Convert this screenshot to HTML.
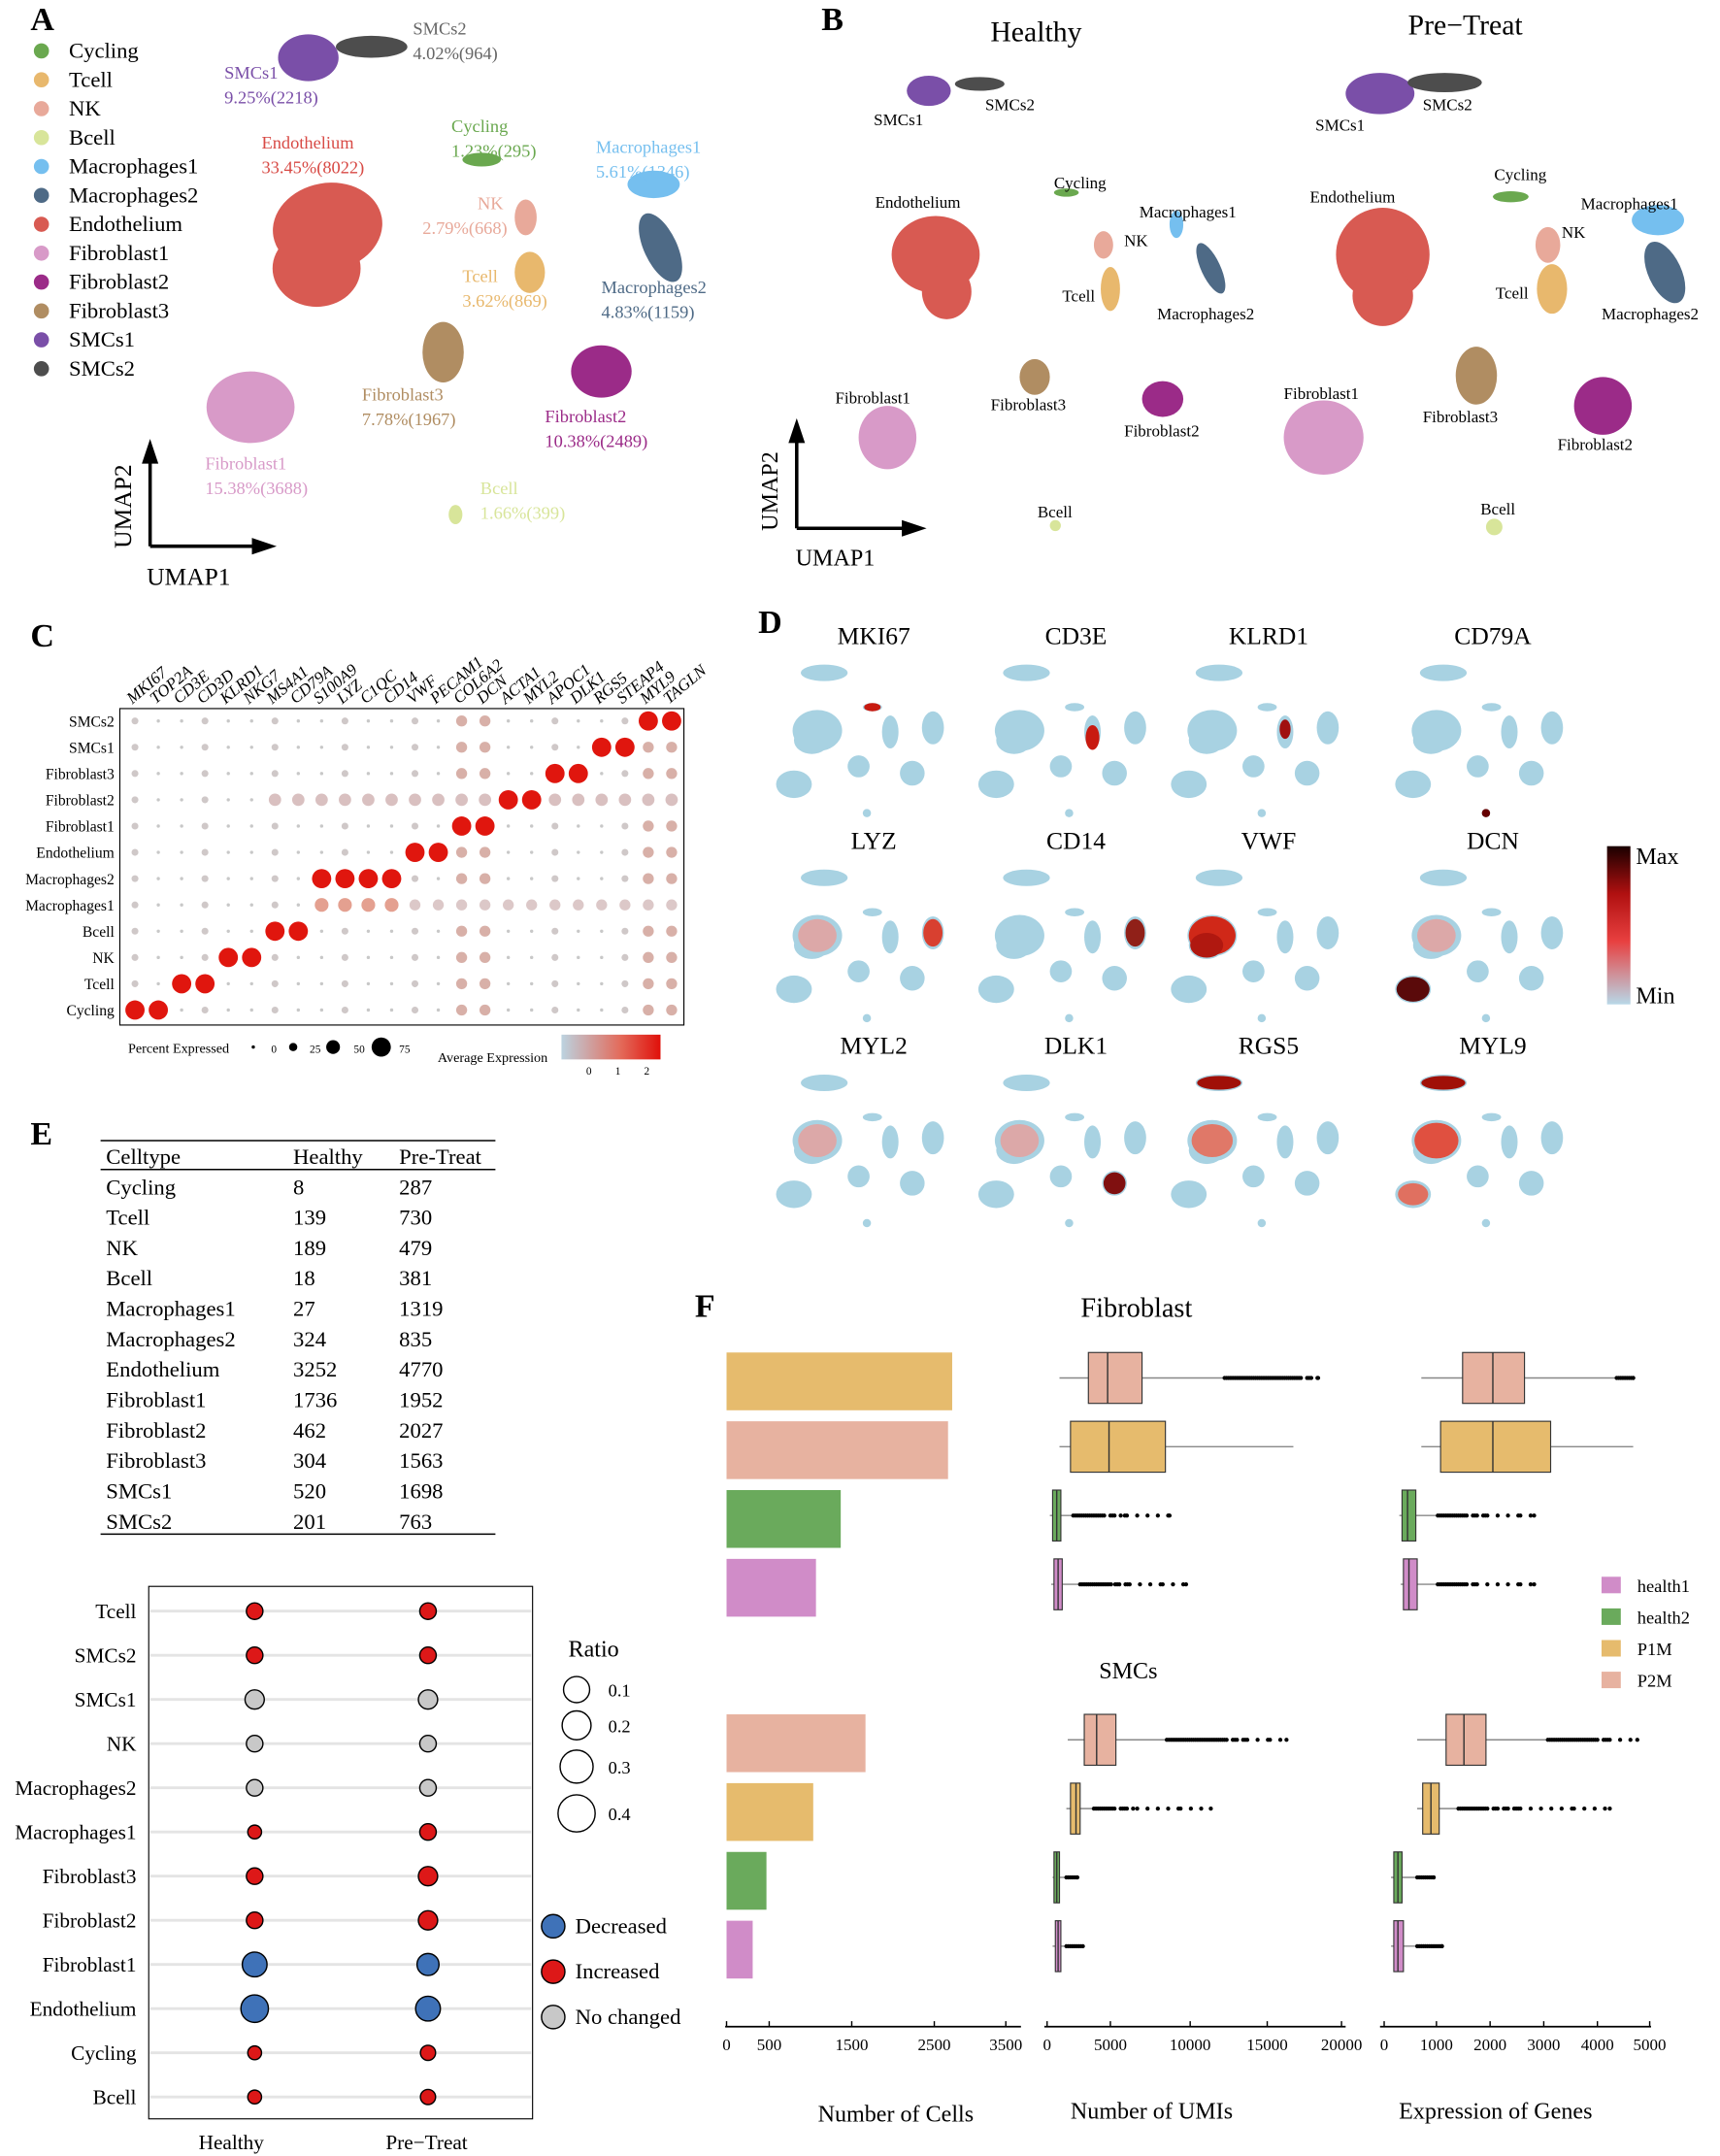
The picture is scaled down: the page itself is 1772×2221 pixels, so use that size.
<!DOCTYPE html>
<html><head><meta charset="utf-8"><style>
html,body{margin:0;padding:0;background:#fff}
svg{display:block}
text{font-family:"Liberation Serif",serif}
</style></head><body>
<svg id="c" width="1772" height="2221" viewBox="0 0 1250 1567" xmlns="http://www.w3.org/2000/svg"></svg>
<script>
var o=[];
function t(x,y,s,sz,col,anc,extra){o.push('<text x="'+x+'" y="'+y+'" font-size="'+sz+'" fill="'+(col||'#000')+'"'+(anc?' text-anchor="'+anc+'"':'')+(extra||'')+'>'+s+'</text>');}
function e(cx,cy,rx,ry,f,rot){o.push('<ellipse cx="'+cx+'" cy="'+cy+'" rx="'+rx+'" ry="'+ry+'" fill="'+f+'"'+(rot?' transform="rotate('+rot+' '+cx+' '+cy+')"':'')+'/>');}
function r(x,y,w,h,f,st){o.push('<rect x="'+x+'" y="'+y+'" width="'+w+'" height="'+h+'" fill="'+f+'"'+(st?' stroke="'+st+'" stroke-width="0.8"':'')+'/>');}
function l(x1,y1,x2,y2,c,w){o.push('<line x1="'+x1+'" y1="'+y1+'" x2="'+x2+'" y2="'+y2+'" stroke="'+(c||'#000')+'" stroke-width="'+(w||1)+'"/>');}
function c(cx,cy,rr,f,st){o.push('<circle cx="'+cx+'" cy="'+cy+'" r="'+rr+'" fill="'+f+'"'+(st?' stroke="'+st+'" stroke-width="1"':'')+'/>');}
var C={Cycling:'#6aa84f',Tcell:'#e8b86d',NK:'#e8a99a',Bcell:'#d8e59a',Macrophages1:'#75bfef',Macrophages2:'#4e6a86',Endothelium:'#d85a52',Fibroblast1:'#d89ac8',Fibroblast2:'#9b2b88',Fibroblast3:'#b08d62',SMCs1:'#7a4fa8',SMCs2:'#4d4d4d'};
[['A',22,22],['B',597,22],['C',22,470],['D',551,460],['E',22,832],['F',505,957]].forEach(function(a){o.push('<text x="'+a[1]+'" y="'+a[2]+'" font-size="24" font-weight="bold" font-family="Liberation Sans,sans-serif">'+a[0]+'</text>');});
var names=['Cycling','Tcell','NK','Bcell','Macrophages1','Macrophages2','Endothelium','Fibroblast1','Fibroblast2','Fibroblast3','SMCs1','SMCs2'];
names.forEach(function(n,i){var y=42+i*21;c(30,y-5,5.5,C[n]);t(50,y,n,16);});
// A clusters
e(224,42,22,17,C.SMCs1);e(270,34,26,8,C.SMCs2);
e(238,165,40,32,C.Endothelium,-10);e(230,195,32,28,C.Endothelium);
e(350,116,14,5,C.Cycling);
e(382,158,8,13,C.NK);e(385,198,11,15,C.Tcell);
e(475,134,19,10,C.Macrophages1);e(480,180,12,27,C.Macrophages2,-25);
e(322,256,15,22,C.Fibroblast3);
e(437,270,22,19,C.Fibroblast2);
e(182,296,32,26,C.Fibroblast1);
e(331,374,5,7,C.Bcell);
t(300,25,'SMCs2',13,'#666');t(300,43,'4.02%(964)',13,'#666');
t(163,57,'SMCs1',13,C.SMCs1);t(163,75,'9.25%(2218)',13,C.SMCs1);
t(190,108,'Endothelium',13,'#d84a45');t(190,126,'33.45%(8022)',13,'#d84a45');
t(328,96,'Cycling',13,C.Cycling);t(328,114,'1.23%(295)',13,C.Cycling);
t(433,111,'Macrophages1',13,C.Macrophages1);t(433,129,'5.61%(1346)',13,C.Macrophages1);
t(347,152,'NK',13,C.NK);t(307,170,'2.79%(668)',13,C.NK);
t(336,205,'Tcell',13,C.Tcell);t(336,223,'3.62%(869)',13,C.Tcell);
t(437,213,'Macrophages2',13,C.Macrophages2);t(437,231,'4.83%(1159)',13,C.Macrophages2);
t(263,291,'Fibroblast3',13,C.Fibroblast3);t(263,309,'7.78%(1967)',13,C.Fibroblast3);
t(396,307,'Fibroblast2',13,C.Fibroblast2);t(396,325,'10.38%(2489)',13,C.Fibroblast2);
t(149,341,'Fibroblast1',13,C.Fibroblast1);t(149,359,'15.38%(3688)',13,C.Fibroblast1);
t(349,359,'Bcell',13,C.Bcell);t(349,377,'1.66%(399)',13,C.Bcell);
function axes(x,y,len){l(x,y,x,y-len,'#000',2.5);l(x,y,x+len*1.2,y,'#000',2.5);
o.push('<polygon points="'+(x-6)+','+(y-len+10)+' '+x+','+(y-len-8)+' '+(x+6)+','+(y-len+10)+'"/>');
o.push('<polygon points="'+(x+len*1.2-10)+','+(y-6)+' '+(x+len*1.2+8)+','+y+' '+(x+len*1.2-10)+','+(y+6)+'"/>');}
axes(109,397,70);t(137,425,'UMAP1',18,'#000','middle');t(95,368,'UMAP2',18,'#000','middle',' transform="rotate(-90 95 368)"');
axes(579,384,72);t(607,411,'UMAP1',17,'#000','middle');t(565,357,'UMAP2',17,'#000','middle',' transform="rotate(-90 565 357)"');
t(753,30,'Healthy',21,'#000','middle');t(1065,25,'Pre\u2212Treat',21,'#000','middle');
e(675,66,16,11,C.SMCs1);e(712,61,18,5,C.SMCs2);
e(680,185,32,28,C.Endothelium);e(688,212,18,20,C.Endothelium);
e(775,140,9,3,C.Cycling);
e(802,178,7,10,C.NK);e(807,210,7,16,C.Tcell);
e(855,163,5,10,C.Macrophages1);e(880,195,7,20,C.Macrophages2,-25);
e(752,274,11,13,C.Fibroblast3);e(845,290,15,13,C.Fibroblast2);
e(645,318,21,23,C.Fibroblast1);e(767,382,4,4,C.Bcell);
e(1003,68,25,15,C.SMCs1);e(1050,60,27,7,C.SMCs2);
e(1005,185,34,34,C.Endothelium);e(1005,215,22,22,C.Endothelium);
e(1098,143,13,4,C.Cycling);e(1125,178,9,13,C.NK);e(1128,210,11,18,C.Tcell);
e(1205,160,19,11,C.Macrophages1);e(1210,198,12,24,C.Macrophages2,-25);
e(1073,273,15,21,C.Fibroblast3);e(1165,295,21,21,C.Fibroblast2);
e(962,318,29,27,C.Fibroblast1);e(1086,383,6,6,C.Bcell);
[['SMCs1',635,91],['SMCs2',716,80],['Endothelium',636,151],['Cycling',766,137],['Macrophages1',828,158],['NK',817,179],['Tcell',772,219],['Macrophages2',841,232],['Fibroblast1',607,293],['Fibroblast3',720,298],['Fibroblast2',817,317],['Bcell',754,376],
 ['SMCs1',956,95],['SMCs2',1034,80],['Endothelium',952,147],['Cycling',1086,131],['Macrophages1',1149,152],['NK',1135,173],['Tcell',1087,217],['Macrophages2',1164,232],['Fibroblast1',933,290],['Fibroblast3',1034,307],['Fibroblast2',1132,327],['Bcell',1076,374]].forEach(function(a){t(a[1],a[2],a[0],12);});
// C dot plot
var genes=['MKI67','TOP2A','CD3E','CD3D','KLRD1','NKG7','MS4A1','CD79A','S100A9','LYZ','C1QC','CD14','VWF','PECAM1','COL6A2','DCN','ACTA1','MYL2','APOC1','DLK1','RGS5','STEAP4','MYL9','TAGLN'];
var rows=['SMCs2','SMCs1','Fibroblast3','Fibroblast2','Fibroblast1','Endothelium','Macrophages2','Macrophages1','Bcell','NK','Tcell','Cycling'];
r(87,515,410,230,'none','#000');
function gx(i){return 98+i*16.96;}
genes.forEach(function(g,i){t(gx(i)-2,512,g,12,'#000','start',' font-style="italic" transform="rotate(-40 '+(gx(i)-2)+' 512)"');});
var hi={Cycling:[0,1],Tcell:[2,3],NK:[4,5],Bcell:[6,7],Macrophages2:[8,9,10,11],Endothelium:[12,13],Fibroblast1:[14,15],Fibroblast2:[16,17],Fibroblast3:[18,19],SMCs1:[20,21],SMCs2:[22,23]};
rows.forEach(function(rn,j){var y=524+j*19.1;t(83,y+4,rn,11,'#000','end');
 genes.forEach(function(g,i){var x=gx(i);var rr=1.2,f='#c8c8c8';
  if(hi[rn]&&hi[rn].indexOf(i)>=0){rr=7;f='#e0160e';}
  else if(rn=='Macrophages1'&&i>=8&&i<=11){rr=5;f='#e4a090';}
  else if(rn=='Fibroblast2'&&i>5){rr=4.5;f='#d9c0c0';}
  else if(rn=='Macrophages1'&&i>11){rr=4;f='#dcc8c8';}
  else if(i>=22||i==14||i==15){rr=4;f='#d8b0a8';}
  else if(i%3==0){rr=2.5;f='#cfc8c8';}
  c(x,y,rr,f);});});
t(93,765,'Percent Expressed',10,'#000','start',' font-family="Liberation Sans"');
c(184,761,1.2,'#000');c(213,761,3,'#000');c(242,761,5,'#000');c(277,761,7,'#000');
t(197,765,'0',8);t(225,765,'25',8);t(257,765,'50',8);t(290,765,'75',8);
t(318,772,'Average Expression',10,'#000','start',' font-family="Liberation Sans"');
o.push('<defs><linearGradient id="g1"><stop offset="0" stop-color="#bcd3e0"/><stop offset="0.6" stop-color="#e36a5a"/><stop offset="1" stop-color="#e0100a"/></linearGradient><linearGradient id="g2" x1="0" y1="0" x2="0" y2="1"><stop offset="0" stop-color="#1a0000"/><stop offset="0.3" stop-color="#b01010"/><stop offset="0.6" stop-color="#e84040"/><stop offset="1" stop-color="#b8d8e8"/></linearGradient></defs>');
r(408,752,72,18,'url(#g1)');t(426,781,'0',8);t(447,781,'1',8);t(468,781,'2',8);
// D
var dg=[['MKI67','CD3E','KLRD1','CD79A'],['LYZ','CD14','VWF','DCN'],['MYL2','DLK1','RGS5','MYL9']];
var dcx=[635,782,922,1085];var dty=[468,617,766];
var LB='#a8d2e2';
dg.forEach(function(row,j){row.forEach(function(g,i){var cx=dcx[i],ty=dty[j];t(cx,ty,g,18,'#000','middle');
 function E(dx,dy,rx,ry,f){e(cx+dx,ty+dy,rx,ry,f);}
 E(-36,21,17,6,LB);E(-41,63,18,15,LB);E(-45,70,13,10,LB);E(-1,46,7,3,LB);E(12,64,6,12,LB);E(43,61,8,12,LB);
 E(-11,89,8,8,LB);E(28,94,9,9,LB);E(-58,102,13,10,LB);E(-5,123,3,3,LB);
 var R='#c81a10';
 if(g=='MKI67'){E(-1,46,6,3,R);}
 if(g=='CD3E'){E(12,68,5,9,R);}
 if(g=='KLRD1'){E(12,62,4,7,'#a01010');}
 if(g=='CD79A')E(-5,123,3,3,'#600');
 if(g=='LYZ'){E(43,61,7,10,'#d84030');}
 if(g=='CD14'){E(43,61,7,10,'#902018');}
 if(g=='VWF'){E(-41,63,17,14,'#d02818');E(-45,70,12,9,'#b01810');}
 if(g=='DCN')E(-58,102,12,9,'#5a0a0a');
 if(g=='DLK1')E(28,94,8,8,'#801010');
 if(g=='RGS5'){E(-36,21,16,5,'#a01008');E(-41,63,15,12,'#e07868');}
 if(g=='MYL9'){E(-36,21,16,5,'#a01008');E(-41,63,16,13,'#e05040');E(-58,102,11,8,'#e07060');}
 if(g=='MYL2'||g=='DCN'||g=='LYZ'||g=='DLK1')E(-41,63,14,12,'#dca8a8');
 });});
r(1168,615,17,115,'url(#g2)');t(1189,628,'Max',17);t(1189,729,'Min',17);
// E table
l(73,829,360,829);l(73,850,360,850);l(73,1115,360,1115);
t(77,846,'Celltype',16);t(213,846,'Healthy',16);t(290,846,'Pre-Treat',16);
var tb=[['Cycling',8,287],['Tcell',139,730],['NK',189,479],['Bcell',18,381],['Macrophages1',27,1319],['Macrophages2',324,835],['Endothelium',3252,4770],['Fibroblast1',1736,1952],['Fibroblast2',462,2027],['Fibroblast3',304,1563],['SMCs1',520,1698],['SMCs2',201,763]];
tb.forEach(function(a,i){var y=868+i*22.1;t(77,y,a[0],16);t(213,y,a[1],16);t(290,y,a[2],16);});
r(108,1153,279,387,'none','#000');
var er=[['Tcell','r',6,6],['SMCs2','r',6,6],['SMCs1','g',7,7],['NK','g',6,6],['Macrophages2','g',6,6],['Macrophages1','r',5,6],['Fibroblast3','r',6,7],['Fibroblast2','r',6,7],['Fibroblast1','b',9,8],['Endothelium','b',10,9],['Cycling','r',5,5.5],['Bcell','r',5,5.5]];
var ec={r:'#dd1818',g:'#c8c8c8',b:'#3f72b8'};
er.forEach(function(a,i){var y=1171+i*32.1;l(109,y,386,y,'#e4e4e4',2);t(99,y+5,a[0],15,'#000','end');c(185,y,a[2],ec[a[1]],'#000');c(311,y,a[3],ec[a[1]],'#000');});
t(168,1562,'Healthy',15,'#000','middle');t(310,1562,'Pre\u2212Treat',15,'#000','middle');
t(413,1204,'Ratio',17);[[1228,9.5,'0.1'],[1254,10.5,'0.2'],[1284,12,'0.3'],[1318,13.5,'0.4']].forEach(function(a){c(419,a[0],a[1],'#fff','#000');t(442,a[0]+5,a[2],13,'#000','start',' font-family="Liberation Sans"');});
[[1400,'#3f72b8','Decreased'],[1433,'#dd1818','Increased'],[1466,'#c8c8c8','No changed']].forEach(function(a){c(402,a[0],8.5,a[1],'#000');t(418,a[0]+5,a[2],16);});
// F
t(826,957,'Fibroblast',20,'#000','middle');t(820,1220,'SMCs',17,'#000','middle');
var P={h1:'#d08cc8',h2:'#6aaa5c',p1:'#e6bb6d',p2:'#e7b2a0'};
[[983,P.p1,692],[1033,P.p2,689],[1083,P.h2,611],[1133,P.h1,593],[1246,P.p2,629],[1296,P.p1,591],[1346,P.h2,557],[1396,P.h1,547]].forEach(function(a){r(528,a[0],a[2]-528,42,a[1]);});
function axis(x1,x2,labs){l(x1,1473,x2,1473,'#000',1.2);labs.forEach(function(a){l(a[0],1473,a[0],1469,'#000',1);t(a[0],1490,a[1],12,'#000','middle',' font-family="Liberation Sans"');});}
axis(527,742,[[528,'0'],[559,'500'],[619,'1500'],[679,'2500'],[731,'3500']]);
axis(759,978,[[761,'0'],[807,'5000'],[865,'10000'],[921,'15000'],[975,'20000']]);
axis(1003,1200,[[1006,'0'],[1044,'1000'],[1083,'2000'],[1122,'3000'],[1161,'4000'],[1199,'5000']]);
function bx(y,col,w1,b1,m,b2,w2,o1,o2,dense){var h=37;l(w1,y+h/2,w2,y+h/2,'#888',1);r(b1,y,b2-b1,h,col,'#333');l(m,y,m,y+h,'#333',1);
 if(o1){var span=o2-o1;var dn=dense||0.4;for(var x=o1;x<=o2;x+=1.5){var f=(x-o1)/span;if(f<dn||((x*7)%13)<3+ (f<dn+0.2?5:0)){c(x,y+h/2,1.5,'#000');}}c(o2,y+h/2,1.5,'#000');}}
bx(983,P.p2,770,791,805,830,890,890,958,0.8);bx(1033,P.p1,770,778,806,847,940);bx(1083,P.h2,763,765,768,771,780,780,850,0.3);bx(1133,P.h1,764,766,769,772,785,785,862,0.3);
bx(1246,P.p2,776,788,797,811,848,848,935,0.5);bx(1296,P.p1,775,778,782,785,795,795,880,0.15);bx(1346,P.h2,765,766,768,770,775,775,783,1);bx(1396,P.h1,765,767,769,771,775,775,787,1);
bx(983,P.p2,1033,1063,1085,1108,1175,1175,1187,1);bx(1033,P.p1,1033,1047,1085,1127,1187);bx(1083,P.h2,1017,1019,1023,1029,1045,1045,1115,0.3);bx(1133,P.h1,1018,1020,1024,1030,1045,1045,1115,0.25);
bx(1246,P.p2,1030,1051,1064,1080,1125,1125,1190,0.5);bx(1296,P.p1,1030,1034,1040,1046,1060,1060,1170,0.2);bx(1346,P.h2,1011,1013,1016,1019,1030,1030,1042,1);bx(1396,P.h1,1011,1013,1016,1020,1030,1030,1048,1);
[['health1',P.h1,1152],['health2',P.h2,1175],['P1M',P.p1,1198],['P2M',P.p2,1221]].forEach(function(a){r(1164,a[2]-6,14,12,a[1]);t(1190,a[2]+5,a[0],13);});
t(651,1542,'Number of Cells',17,'#000','middle');t(837,1540,'Number of UMIs',17,'#000','middle');t(1087,1540,'Expression of Genes',17,'#000','middle');
document.getElementById('c').innerHTML=o.join('');
</script>
</body></html>
